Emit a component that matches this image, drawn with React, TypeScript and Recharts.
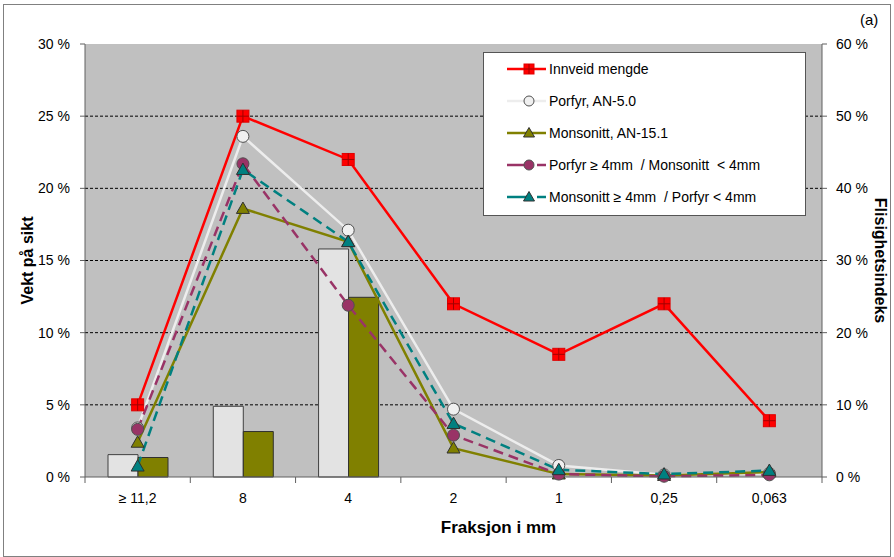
import React from 'react';
import { ComposedChart, Bar, Line, XAxis, YAxis, CartesianGrid, Legend, Label } from 'recharts';

const categories = ['≥ 11,2', '8', '4', '2', '1', '0,25', '0,063'];
const innveid = [5.0, 25.0, 22.0, 12.0, 8.5, 12.0, 3.9];
const porfyr = [3.4, 23.6, 17.1, 4.7, 0.8, 0.15, 0.25];
const monsonitt = [2.4, 18.6, 16.3, 2.0, 0.2, 0.1, 0.35];
const porfyrMons = [3.3, 21.7, 11.9, 2.9, 0.2, 0.05, 0.15];
const monsPorfyr = [0.75, 21.3, 16.3, 3.7, 0.5, 0.2, 0.45];
const flisPorfyr: (number | null)[] = [3.1, 9.8, 31.6, null, null, null, null];
const flisMonsonitt: (number | null)[] = [2.7, 6.3, 24.9, null, null, null, null];
const leftTicks = [0, 5, 10, 15, 20, 25, 30];
const rightTicks = [0, 10, 20, 30, 40, 50, 60];
const gridValues = [5, 10, 15, 20, 25];

const data = categories.map((c, i) => ({
  cat: c,
  innveid: innveid[i],
  porfyr: porfyr[i],
  monsonitt: monsonitt[i],
  porfyrMons: porfyrMons[i],
  monsPorfyr: monsPorfyr[i],
  flisPorfyr: flisPorfyr[i],
  flisMonsonitt: flisMonsonitt[i],
}));

const W = 894;
const H = 557;
const M = { top: 44, right: 10, bottom: 30, left: 5 };
const LEFT_AXIS_W = 80;
const RIGHT_AXIS_W = 62;
const PLOT_W = W - M.left - M.right - LEFT_AXIS_W - RIGHT_AXIS_W;
const HALF_BAND = PLOT_W / categories.length / 2;

const FONT = "'Liberation Sans', Arial, sans-serif";
const NARROW = "'Liberation Sans Narrow', 'Liberation Sans', Arial, sans-serif";
const AXIS_COLOR = '#606060';

const RED = '#FF0000';
const WHITE_LINE = '#EDEDED';
const OLIVE = '#808000';
const PLUM = '#993366';
const TEAL = '#008080';

const SquareDot = (p: any) => {
  const { cx, cy, index } = p;
  if (cx == null || cy == null) return null;
  return (
    <g key={`sq-${index}`}>
      <rect x={cx - 6} y={cy - 6} width={12} height={12} fill={RED} stroke="#E00000" strokeWidth={1} />
      <line x1={cx - 6} x2={cx + 6} y1={cy} y2={cy} stroke="#A00000" strokeWidth={1} />
      <line x1={cx} x2={cx} y1={cy - 6} y2={cy + 6} stroke="#A00000" strokeWidth={1} />
    </g>
  );
};

const makeCircle = (fill: string, keyp: string) => (p: any) => {
  const { cx, cy, index } = p;
  if (cx == null || cy == null) return null;
  return <circle key={`${keyp}-${index}`} cx={cx} cy={cy} r={6} fill={fill} stroke="#505050" strokeWidth={1} />;
};

const makeTriangle = (fill: string, keyp: string) => (p: any) => {
  const { cx, cy, index } = p;
  if (cx == null || cy == null) return null;
  const s = 6.5;
  const pts = `${cx},${cy - s} ${cx + s},${cy + s * 0.75} ${cx - s},${cy + s * 0.75}`;
  return <polygon key={`${keyp}-${index}`} points={pts} fill={fill} stroke="#303030" strokeWidth={1} />;
};

const WhiteDot = makeCircle('#F0F0F0', 'wc');
const PlumDot = makeCircle(PLUM, 'pc');
const OliveTri = makeTriangle(OLIVE, 'ot');
const TealTri = makeTriangle(TEAL, 'tt');

const XTick = (p: any) => {
  const { x, y, payload, index } = p;
  const axisY = y - 6 - 4;
  const last = index === categories.length - 1;
  return (
    <g>
      <line x1={x - HALF_BAND} x2={x - HALF_BAND} y1={axisY} y2={axisY + 6} stroke={AXIS_COLOR} />
      {last && <line x1={x + HALF_BAND} x2={x + HALF_BAND} y1={axisY} y2={axisY + 6} stroke={AXIS_COLOR} />}
      <text x={x} y={axisY + 26} textAnchor="middle" fontFamily={NARROW} fontSize={14} fill="#000">
        {payload.value}
      </text>
    </g>
  );
};

const legendItems = [
  { label: 'Innveid mengde', color: RED, dashed: false, marker: 'square' },
  { label: 'Porfyr, AN-5.0', color: WHITE_LINE, dashed: false, marker: 'wcircle' },
  { label: 'Monsonitt, AN-15.1', color: OLIVE, dashed: false, marker: 'otri' },
  { label: 'Porfyr ≥ 4mm  / Monsonitt  < 4mm', color: PLUM, dashed: true, marker: 'pcircle' },
  { label: 'Monsonitt ≥ 4mm  / Porfyr < 4mm', color: TEAL, dashed: true, marker: 'ttri' },
];

const LegendMarker = ({ kind }: { kind: string }) => {
  if (kind === 'square') {
    return (
      <g>
        <rect x={17} y={3} width={10} height={10} fill={RED} stroke="#E00000" />
        <line x1={17} x2={27} y1={8} y2={8} stroke="#A00000" />
        <line x1={22} x2={22} y1={3} y2={13} stroke="#A00000" />
      </g>
    );
  }
  if (kind === 'wcircle') return <circle cx={22} cy={8} r={5} fill="#F0F0F0" stroke="#505050" />;
  if (kind === 'pcircle') return <circle cx={22} cy={8} r={5} fill={PLUM} stroke="#505050" />;
  const fill = kind === 'otri' ? OLIVE : TEAL;
  return <polygon points="22,2.5 27.5,12 16.5,12" fill={fill} stroke="#303030" />;
};

const renderLegend = () => (
  <div
    style={{
      width: 321,
      height: 162,
      background: '#FFFFFF',
      border: '1px solid #555',
      boxSizing: 'content-box',
      fontFamily: FONT,
      fontSize: 14,
      color: '#000',
      paddingTop: 0,
    }}
  >
    {legendItems.map((it) => (
      <div key={it.label} style={{ height: 32, display: 'flex', alignItems: 'center', whiteSpace: 'pre' }}>
        <svg width={62} height={16} style={{ marginLeft: 23, flex: 'none' }}>
          {it.dashed ? (
            <g>
              <line x1={0} x2={24} y1={8} y2={8} stroke={it.color} strokeWidth={2.5} />
              <line x1={30} x2={39} y1={8} y2={8} stroke={it.color} strokeWidth={2.5} />
            </g>
          ) : (
            <line x1={0} x2={39} y1={8} y2={8} stroke={it.color} strokeWidth={2.5} />
          )}
          <LegendMarker kind={it.marker} />
        </svg>
        <span style={{ marginLeft: -20 }}>{it.label}</span>
      </div>
    ))}
  </div>
);

export default function App() {
  return (
    <div style={{ position: 'absolute', left: 0, top: 0, width: W, height: H, background: '#fff' }}>
      <div
        style={{
          position: 'absolute',
          left: 3,
          top: 4,
          width: 886,
          height: 551,
          border: '1px solid #808080',
          pointerEvents: 'none',
        }}
      />
      <div
        style={{
          position: 'absolute',
          left: 860,
          top: 11,
          fontFamily: FONT,
          fontSize: 15,
          color: '#000',
        }}
      >
        (a)
      </div>
      <div style={{ position: 'absolute', left: 0, top: 0 }}>
        <ComposedChart width={W} height={H} data={data} margin={M} barGap={0}>
          <CartesianGrid
            yAxisId="left"
            vertical={false}
            horizontalValues={gridValues}
            stroke="#000"
            strokeDasharray="3 2"
            fill="#C0C0C0"
            fillOpacity={1}
          />
          <XAxis
            dataKey="cat"
            stroke={AXIS_COLOR}
            tickLine={false}
            tickSize={6}
            tickMargin={4}
            height={50}
            tick={<XTick />}
            interval={0}
          >
            <Label
              value="Fraksjon i mm"
              position="insideBottom"
              offset={0}
              dx={45}
              dy={6}
              style={{ fontFamily: NARROW, fontSize: 17, fontWeight: 'bold', fill: '#000' }}
            />
          </XAxis>
          <YAxis
            yAxisId="left"
            width={LEFT_AXIS_W}
            domain={[0, 30]}
            ticks={leftTicks}
            interval={0}
            tickFormatter={(v: number) => `${v} %`}
            stroke={AXIS_COLOR}
            tickSize={5}
            tickMargin={10}
            tick={{ fontFamily: FONT, fontSize: 14, fill: '#000' }}
          >
            <Label
              value="Vekt på sikt"
              angle={-90}
              position="insideLeft"
              offset={22}
              style={{ fontFamily: FONT, fontSize: 16, fontWeight: 'bold', fill: '#000', textAnchor: 'middle' }}
            />
          </YAxis>
          <YAxis
            yAxisId="right"
            orientation="right"
            width={RIGHT_AXIS_W}
            domain={[0, 60]}
            ticks={rightTicks}
            interval={0}
            tickFormatter={(v: number) => `${v} %`}
            stroke={AXIS_COLOR}
            tickSize={5}
            tickMargin={9}
            tick={{ fontFamily: FONT, fontSize: 14, fill: '#000', textAnchor: 'start' }}
          >
            <Label
              value="Flisighetsindeks"
              angle={90}
              position="insideRight"
              offset={3}
              style={{ fontFamily: FONT, fontSize: 16, fontWeight: 'bold', fill: '#000', textAnchor: 'middle' }}
            />
          </YAxis>
          <Legend
            content={renderLegend}
            layout="horizontal"
            verticalAlign="middle"
            align="center"
            wrapperStyle={{ position: 'absolute', left: 483, top: 52, width: 323, height: 164 }}
          />
          <Bar yAxisId="right" dataKey="flisPorfyr" barSize={30} fill="#E3E3E3" stroke="#404040" strokeWidth={1} isAnimationActive={false} legendType="none" />
          <Bar yAxisId="right" dataKey="flisMonsonitt" barSize={30} fill={OLIVE} stroke="#303030" strokeWidth={1} isAnimationActive={false} legendType="none" />
          <Line yAxisId="left" dataKey="innveid" stroke={RED} strokeWidth={2.5} dot={SquareDot} activeDot={false} isAnimationActive={false} />
          <Line yAxisId="left" dataKey="porfyr" stroke={WHITE_LINE} strokeWidth={2.5} dot={WhiteDot} activeDot={false} isAnimationActive={false} />
          <Line yAxisId="left" dataKey="monsonitt" stroke={OLIVE} strokeWidth={2.5} dot={OliveTri} activeDot={false} isAnimationActive={false} />
          <Line yAxisId="left" dataKey="porfyrMons" stroke={PLUM} strokeWidth={2.5} strokeDasharray="10 6" dot={PlumDot} activeDot={false} isAnimationActive={false} />
          <Line yAxisId="left" dataKey="monsPorfyr" stroke={TEAL} strokeWidth={2.5} strokeDasharray="10 6" dot={TealTri} activeDot={false} isAnimationActive={false} />
        </ComposedChart>
      </div>
    </div>
  );
}
